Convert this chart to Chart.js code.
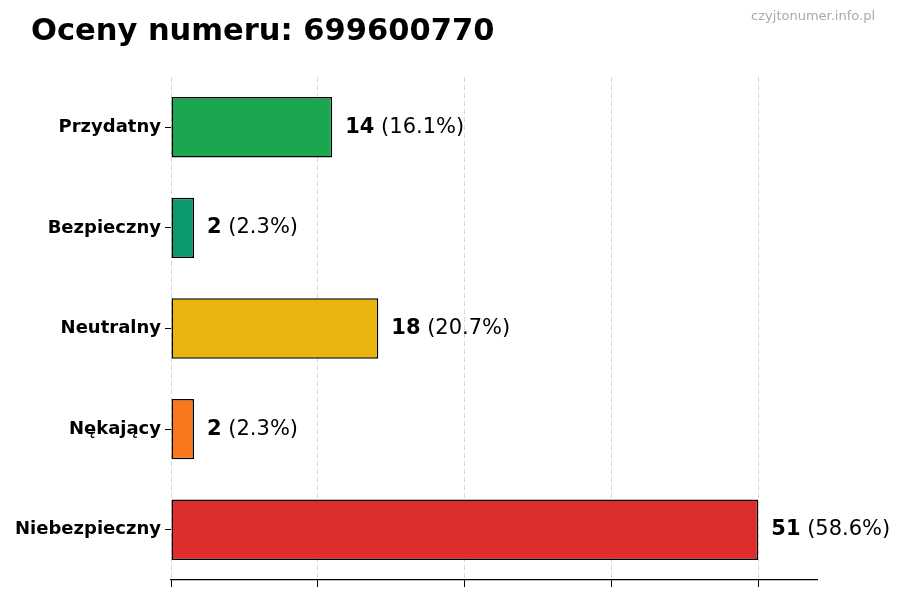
<!DOCTYPE html>
<html>
<head>
<meta charset="utf-8">
<script src="https://cdn.jsdelivr.net/npm/chart.js@4.4.0/dist/chart.umd.min.js"></script>
<style>
  html, body { margin: 0; padding: 0; background: #fff; }
  #wrap { width: 900px; height: 600px; }
</style>
</head>
<body>
<div id="wrap"><canvas id="chart" width="900" height="600"></canvas></div>
<script>
// dane wykresu
const kategorie = ['Przydatny', 'Bezpieczny', 'Neutralny', 'Nękający', 'Niebezpieczny'];
const wartosci = [14, 2, 18, 2, 51];
const kolory = ['#16a34a', '#059669', '#eab308', '#f97316', '#dc2626'];
const tickiX = [0, 12.75, 25.5, 38.25, 51];
const maxX = 56.1;
const tytul = 'Oceny numeru: 699600770';
const znakWodny = 'czyjtonumer.info.pl';

const FONT = '"DejaVu Sans", sans-serif';
const suma = wartosci.reduce((a, b) => a + b, 0);

function hexRgba(hex, a) {
  const n = parseInt(hex.slice(1), 16);
  return `rgba(${(n >> 16) & 255}, ${(n >> 8) & 255}, ${n & 255}, ${a})`;
}

// tytuł i znak wodny
const naglowek = {
  id: 'naglowek',
  afterDraw(chart) {
    const ctx = chart.ctx;
    ctx.save();
    ctx.fillStyle = '#000';
    ctx.font = 'bold 30.5px ' + FONT;
    ctx.textAlign = 'left';
    ctx.textBaseline = 'alphabetic';
    ctx.fillText(tytul, 31, 40);
    ctx.fillStyle = '#aaaaaa';
    ctx.font = '13px ' + FONT;
    ctx.textAlign = 'right';
    ctx.textBaseline = 'middle';
    ctx.fillText(znakWodny, 875, 17);
    ctx.restore();
  }
};

// etykiety wartości przy słupkach
const etykiety = {
  id: 'etykiety',
  afterDatasetsDraw(chart) {
    const ctx = chart.ctx;
    const meta = chart.getDatasetMeta(0);
    ctx.save();
    ctx.textBaseline = 'middle';
    ctx.textAlign = 'left';
    ctx.fillStyle = '#000';
    meta.data.forEach((bar, i) => {
      const v = wartosci[i];
      const proc = (v / suma * 100).toFixed(1);
      let x = bar.x + 13;
      ctx.font = 'bold 21px ' + FONT;
      ctx.fillText(String(v), x, bar.y);
      x += ctx.measureText(String(v)).width;
      ctx.font = '21px ' + FONT;
      ctx.fillText(' (' + proc + '%)', x, bar.y);
    });
    ctx.restore();
  }
};

const ctx = document.getElementById('chart').getContext('2d');
new Chart(ctx, {
  type: 'bar',
  data: {
    labels: kategorie,
    datasets: [{
      data: wartosci,
      backgroundColor: kolory.map(c => hexRgba(c, 0.97)),
      borderColor: '#000',
      borderWidth: 1.5,
      borderSkipped: false,
      barPercentage: 0.6,
      categoryPercentage: 1
    }]
  },
  options: {
    indexAxis: 'y',
    responsive: false,
    animation: false,
    layout: {
      padding: { left: 0, right: 83, top: 77, bottom: 12 }
    },
    plugins: {
      legend: { display: false },
      tooltip: { enabled: false }
    },
    scales: {
      x: {
        min: 0,
        max: maxX,
        afterBuildTicks: function(scale) {
          scale.ticks = tickiX.map(v => ({ value: v }));
        },
        afterFit: function(scale) {
          scale.height = 8;
        },
        ticks: { display: false },
        grid: {
          color: '#d6d6d6',
          lineWidth: 1,
          drawTicks: true,
          tickLength: 7,
          tickColor: '#000'
        },
        border: { display: true, color: '#000', width: 1.2, dash: [5, 3] }
      },
      y: {
        afterFit: function(scale) {
          scale.width = 171;
        },
        ticks: {
          color: '#000',
          font: { family: FONT, size: 18, weight: 'bold' },
          padding: 4
        },
        grid: {
          offset: false,
          drawOnChartArea: false,
          drawTicks: true,
          tickLength: 6,
          tickColor: '#000'
        },
        border: { display: false }
      }
    }
  },
  plugins: [naglowek, etykiety]
});
</script>
</body>
</html>
